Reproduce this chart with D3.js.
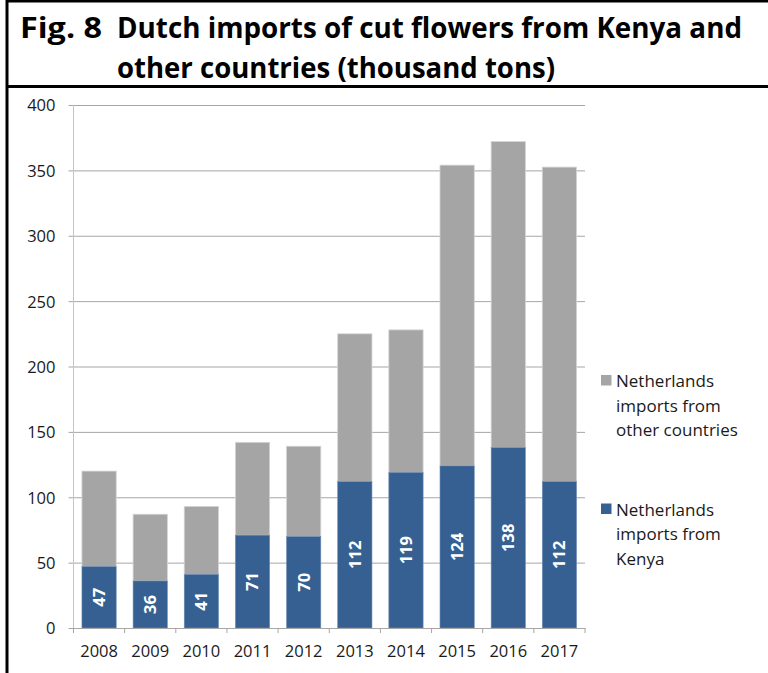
<!doctype html>
<html lang="en">
    <head>
        <meta charset="UTF-8" />
        <title>Fig. 8 Dutch imports of cut flowers</title>
        <script src="https://d3js.org/d3.v7.min.js"></script>
        <style>
            body {
                margin: 0;
                background: #fff;
                font-family: "Open Sans", sans-serif;
            }
            .tick text {
                font-size: 16.5px;
                fill: #1a1a1a;
                font-family: "Open Sans", sans-serif;
            }
        </style>
    </head>
    <body>
        <svg id="chart" width="768" height="673"></svg>
        <script>
            const years = ["2008", "2009", "2010", "2011", "2012", "2013", "2014", "2015", "2016", "2017"];
            const kenya = [47, 36, 41, 71, 70, 112, 119, 124, 138, 112];
            const other = [73, 51, 52, 71, 69, 113, 109, 230, 234, 240.5];
            const yTicks = [0, 50, 100, 150, 200, 250, 300, 350, 400];
            const seriesNames = [
                ["Netherlands", "imports from", "other countries"],
                ["Netherlands", "imports from", "Kenya"],
            ];
            const colors = { kenya: "#376092", other: "#a5a5a5" };

            const svg = d3.select("#chart");
            const margin = { top: 105, left: 73.5, right: 183, bottom: 45 };
            const W = 768, H = 673;
            const plotW = W - margin.left - margin.right;
            const plotH = H - margin.top - margin.bottom;

            // frame: left line, title box
            svg.append("line").attr("x1", 7).attr("x2", 7).attr("y1", 0).attr("y2", H)
                .attr("stroke", "#000").attr("stroke-width", 3);
            svg.append("line").attr("x1", 6).attr("x2", W).attr("y1", 1).attr("y2", 1)
                .attr("stroke", "#000").attr("stroke-width", 3);
            svg.append("line").attr("x1", 6).attr("x2", W).attr("y1", 86.5).attr("y2", 86.5)
                .attr("stroke", "#000").attr("stroke-width", 3);

            const title = svg.append("g").attr("font-weight", "bold").attr("font-size", 29).attr("fill", "#000");
            title.append("text").attr("x", 20).attr("y", 38).text("Fig. 8")
                .attr("textLength", 82).attr("lengthAdjust", "spacingAndGlyphs");
            title.append("text").attr("x", 117).attr("y", 38).text("Dutch imports of cut flowers from Kenya and")
                .attr("textLength", 625).attr("lengthAdjust", "spacingAndGlyphs");
            title.append("text").attr("x", 117).attr("y", 78).text("other countries (thousand tons)")
                .attr("textLength", 438).attr("lengthAdjust", "spacingAndGlyphs");

            const g = svg.append("g").attr("transform", `translate(${margin.left},${margin.top})`);

            const x = d3.scaleBand().domain(years).range([0, plotW]).paddingInner(0.33).paddingOuter(0.165);
            const y = d3.scaleLinear().domain([0, 400]).range([plotH, 0]);

            // y axis with gridlines
            const yAxis = g.append("g").call(d3.axisLeft(y).tickValues(yTicks).tickSize(-plotW).tickSizeOuter(0).tickPadding(18));
            yAxis.select(".domain").remove();
            yAxis.selectAll(".tick line").attr("x1", -5).attr("stroke", "#a6a6a6");
            yAxis.selectAll(".tick text").attr("dy", "0.36em");

            g.append("line").attr("x1", 0).attr("x2", 0).attr("y1", 0).attr("y2", plotH)
                .attr("stroke", "#c4c4c4");

            // bars
            const data = years.map((yr, i) => ({ year: yr, kenya: kenya[i], other: other[i] }));
            g.append("g").selectAll("rect").data(data).join("rect")
                .attr("x", (d) => x(d.year)).attr("width", x.bandwidth())
                .attr("y", (d) => y(d.kenya + d.other))
                .attr("height", (d) => y(d.kenya) - y(d.kenya + d.other))
                .attr("fill", colors.other).attr("stroke", "#d4d4d4").attr("stroke-width", 0.8);
            g.append("g").selectAll("rect").data(data).join("rect")
                .attr("x", (d) => x(d.year)).attr("width", x.bandwidth())
                .attr("y", (d) => y(d.kenya))
                .attr("height", (d) => y(0) - y(d.kenya))
                .attr("fill", colors.kenya).attr("stroke", "#6f8fb5").attr("stroke-width", 0.6);

            // value labels
            g.append("g").selectAll("text").data(data).join("text")
                .attr("transform", (d) => `translate(${x(d.year) + x.bandwidth() / 2},${y(d.kenya / 2)}) rotate(-90)`)
                .attr("text-anchor", "middle").attr("dy", "0.36em")
                .attr("fill", "#fff").attr("font-weight", "bold").attr("font-size", 16.5)
                .text((d) => d.kenya);

            // x axis
            const xAxis = g.append("g").attr("transform", `translate(0,${plotH})`)
                .call(d3.axisBottom(x).tickSize(0).tickPadding(17));
            xAxis.select(".domain").attr("stroke", "#a6a6a6");
            const step = x.step();
            const bounds = d3.range(years.length + 1).map((i) => i * step);
            g.append("g").selectAll("line").data(bounds).join("line")
                .attr("x1", (d) => d).attr("x2", (d) => d)
                .attr("y1", plotH).attr("y2", plotH + 5)
                .attr("stroke", "#a6a6a6");

            // legend
            const legend = [
                { color: colors.other, lines: seriesNames[0], y: 375 },
                { color: colors.kenya, lines: seriesNames[1], y: 503.5 },
            ];
            const lg = svg.append("g");
            legend.forEach((item) => {
                lg.append("rect").attr("x", 601).attr("y", item.y).attr("width", 10.5).attr("height", 10.5)
                    .attr("fill", item.color);
                item.lines.forEach((t, i) => {
                    lg.append("text").attr("x", 616).attr("y", item.y + 12 + i * 24.5)
                        .attr("font-size", 17).attr("fill", "#1a1a1a").text(t);
                });
            });
        </script>
    </body>
</html>
